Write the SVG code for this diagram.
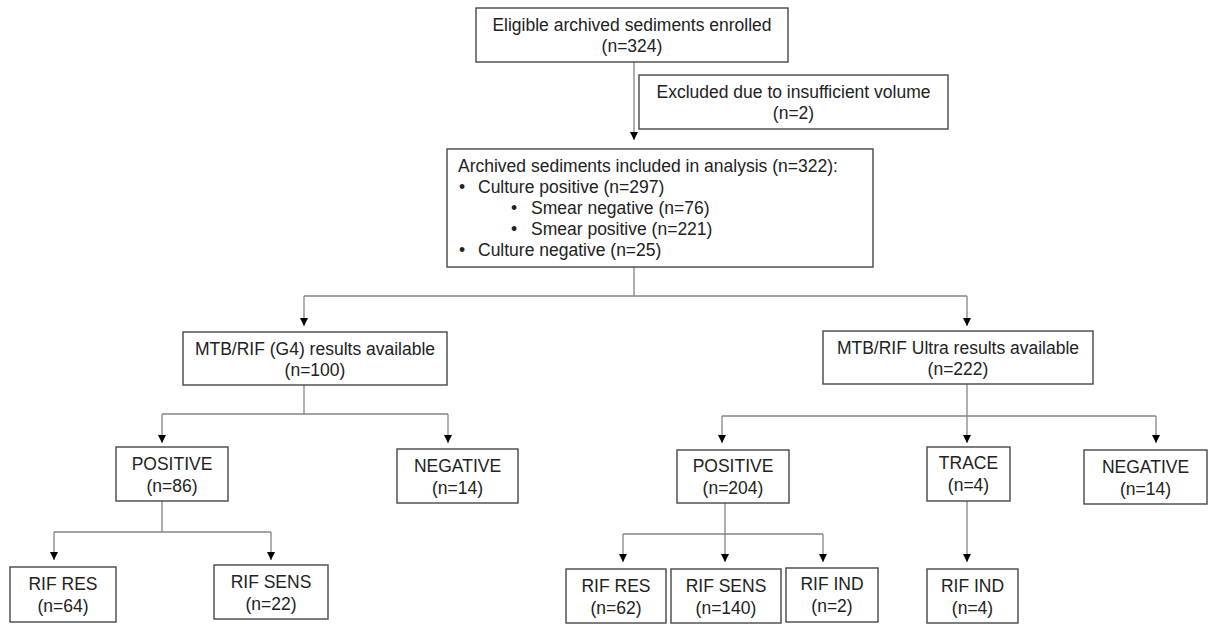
<svg xmlns="http://www.w3.org/2000/svg" width="1208" height="624" viewBox="0 0 1208 624">
<style>
.box{fill:#fff;stroke:#474747;stroke-width:1.4}
.t{font-family:"Liberation Sans",Arial,sans-serif;font-size:17.5px;fill:#222}
.c{text-anchor:middle}
.ln{fill:none;stroke:#858585;stroke-width:1.3}
</style>
<defs>
<marker id="ah" markerUnits="userSpaceOnUse" markerWidth="9" markerHeight="9" refX="8" refY="4" orient="auto">
<path d="M0,0 L8,4 L0,8 z" fill="#000"/>
</marker>
</defs>
<rect width="1208" height="624" fill="#fff"/>
<g id="connectors">
<path class="ln" d="M634,62 V140" marker-end="url(#ah)"/>
<path class="ln" d="M634,267 V296 M304,296 H967"/>
<path class="ln" d="M304,296 V326" marker-end="url(#ah)"/>
<path class="ln" d="M967,296 V326" marker-end="url(#ah)"/>
<path class="ln" d="M304,385 V414 M162,414 H448"/>
<path class="ln" d="M162,414 V443" marker-end="url(#ah)"/>
<path class="ln" d="M448,414 V443" marker-end="url(#ah)"/>
<path class="ln" d="M162,501 V532 M54,532 H271"/>
<path class="ln" d="M54,532 V560" marker-end="url(#ah)"/>
<path class="ln" d="M271,532 V560" marker-end="url(#ah)"/>
<path class="ln" d="M722,416 H1156"/>
<path class="ln" d="M967,384 V443" marker-end="url(#ah)"/>
<path class="ln" d="M722,416 V443" marker-end="url(#ah)"/>
<path class="ln" d="M1156,416 V443" marker-end="url(#ah)"/>
<path class="ln" d="M623,534 H823"/>
<path class="ln" d="M725,503 V562" marker-end="url(#ah)"/>
<path class="ln" d="M623,534 V562" marker-end="url(#ah)"/>
<path class="ln" d="M823,534 V562" marker-end="url(#ah)"/>
<path class="ln" d="M967,501 V562" marker-end="url(#ah)"/>
</g>
<g id="enrolled">
<rect class="box" x="476" y="8" width="312" height="54"/>
<text class="t c" x="632" y="31">Eligible archived sediments enrolled</text>
<text class="t c" x="632" y="52">(n=324)</text>
</g>
<g id="excluded">
<rect class="box" x="639" y="75" width="309" height="54"/>
<text class="t c" x="793.5" y="98">Excluded due to insufficient volume</text>
<text class="t c" x="793.5" y="119">(n=2)</text>
</g>
<g id="included">
<rect class="box" x="447" y="149" width="426" height="118"/>
<text class="t" x="458" y="172">Archived sediments included in analysis (n=322):</text>
<text class="t" x="459" y="193">•</text>
<text class="t" x="478" y="193">Culture positive (n=297)</text>
<text class="t" x="511" y="214">•</text>
<text class="t" x="531" y="214">Smear negative (n=76)</text>
<text class="t" x="511" y="235">•</text>
<text class="t" x="531" y="235">Smear positive (n=221)</text>
<text class="t" x="459" y="256">•</text>
<text class="t" x="478" y="256">Culture negative (n=25)</text>
</g>
<g id="g4">
<rect class="box" x="183" y="332" width="264" height="53"/>
<text class="t c" x="315" y="355">MTB/RIF (G4) results available</text>
<text class="t c" x="315" y="376">(n=100)</text>
</g>
<g id="ultra">
<rect class="box" x="823" y="331" width="270" height="53"/>
<text class="t c" x="958" y="354">MTB/RIF Ultra results available</text>
<text class="t c" x="958" y="375">(n=222)</text>
</g>
<g id="g4-positive">
<rect class="box" x="116" y="447" width="112" height="54"/>
<text class="t c" x="172" y="470">POSITIVE</text>
<text class="t c" x="172" y="492">(n=86)</text>
</g>
<g id="g4-negative">
<rect class="box" x="397" y="449" width="121" height="54"/>
<text class="t c" x="457.5" y="472">NEGATIVE</text>
<text class="t c" x="457.5" y="494">(n=14)</text>
</g>
<g id="g4-rifres">
<rect class="box" x="10" y="567" width="106" height="55"/>
<text class="t c" x="63" y="590">RIF RES</text>
<text class="t c" x="63" y="612">(n=64)</text>
</g>
<g id="g4-rifsens">
<rect class="box" x="214" y="565" width="114" height="54"/>
<text class="t c" x="271" y="588">RIF SENS</text>
<text class="t c" x="271" y="610">(n=22)</text>
</g>
<g id="ultra-positive">
<rect class="box" x="677" y="450" width="112" height="53"/>
<text class="t c" x="733" y="472">POSITIVE</text>
<text class="t c" x="733" y="494">(n=204)</text>
</g>
<g id="ultra-trace">
<rect class="box" x="927" y="447" width="83" height="54"/>
<text class="t c" x="968.5" y="469">TRACE</text>
<text class="t c" x="968.5" y="491">(n=4)</text>
</g>
<g id="ultra-negative">
<rect class="box" x="1084" y="450" width="123" height="54"/>
<text class="t c" x="1145.5" y="473">NEGATIVE</text>
<text class="t c" x="1145.5" y="495">(n=14)</text>
</g>
<g id="ultra-rifres">
<rect class="box" x="566" y="569" width="100" height="54"/>
<text class="t c" x="616" y="592">RIF RES</text>
<text class="t c" x="616" y="614">(n=62)</text>
</g>
<g id="ultra-rifsens">
<rect class="box" x="671" y="569" width="110" height="54"/>
<text class="t c" x="726" y="592">RIF SENS</text>
<text class="t c" x="726" y="614">(n=140)</text>
</g>
<g id="ultra-rifind">
<rect class="box" x="786" y="568" width="92" height="54"/>
<text class="t c" x="832" y="590">RIF IND</text>
<text class="t c" x="832" y="612">(n=2)</text>
</g>
<g id="trace-rifind">
<rect class="box" x="927" y="569" width="91" height="54"/>
<text class="t c" x="972.5" y="592">RIF IND</text>
<text class="t c" x="972.5" y="614">(n=4)</text>
</g>
</svg>
